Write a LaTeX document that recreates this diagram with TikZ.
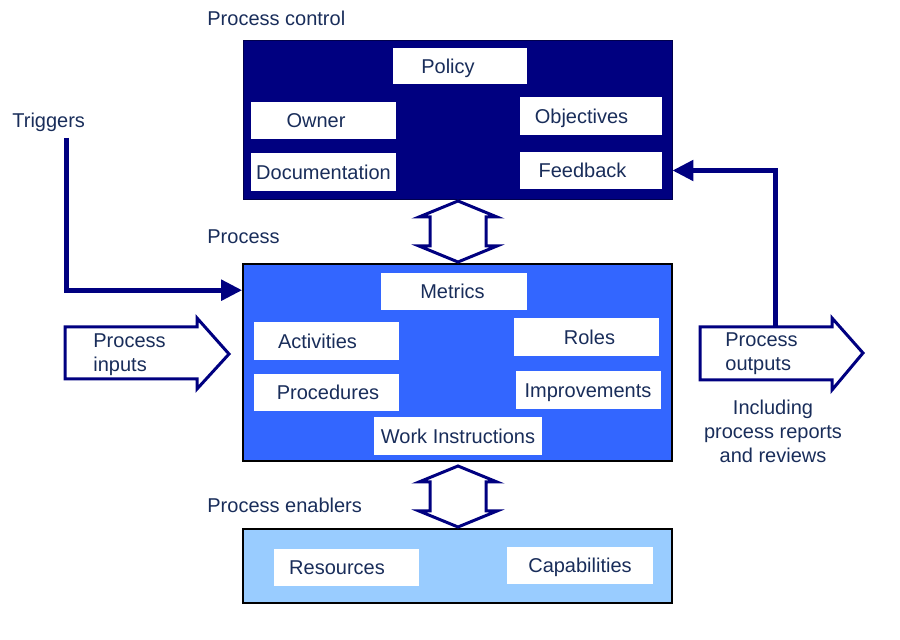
\documentclass[tikz,border=0pt]{standalone}
\usepackage{fontspec}
\setmainfont{Liberation Sans}
\usetikzlibrary{arrows.meta,calc}
\definecolor{navy}{RGB}{0,0,128}
\definecolor{procblue}{RGB}{51,102,255}
\definecolor{enablerblue}{RGB}{153,204,255}
\definecolor{ink}{RGB}{25,45,90}
\begin{document}
\begin{tikzpicture}[x=.5pt,y=-.5pt,
    every node/.style={text=ink,font=\fontsize{10}{12}\selectfont},
    bigbox/.style={rectangle,minimum width=214.5pt,inner sep=0pt},
    wbox/.style={fill=white,minimum width=72.5pt,minimum height=18.5pt,inner sep=0pt,text height=9.5pt,text depth=2pt},
    textshift/.style={execute at begin node={\hspace*{#1}},execute at end node={\hspace*{-#1}}},
    conn/.style={draw=navy,line width=2.5pt,-{Triangle[length=10.5pt,width=10pt]}},
    blockarrow/.style={draw=navy,fill=white,line width=1.5pt,line join=miter},
    heading/.style={anchor=west,inner sep=0pt}]
                \useasboundingbox (0,0) rectangle (900,640);
                \node[bigbox,draw=navy!60!black,fill=navy,minimum height=79.5pt] (control) at (457.5,119.5) {};
                \node[wbox,minimum width=67pt,minimum height=18pt,textshift=-5.75pt] (policy) at (459.5,66) {Policy};
                \node[wbox,textshift=-3.75pt] (owner) at (323.5,120.5) {Owner};
                \node[wbox,minimum height=19pt] (documentation) at (323.5,172) {Documentation};
                \node[wbox,minimum width=71pt,minimum height=19pt,textshift=-4.5pt] (objectives) at (590.5,116) {Objectives};
                \node[wbox,minimum width=71pt,textshift=-4pt] (feedback) at (590.5,170.5) {Feedback};
                \node[bigbox,draw=black,line width=.8pt,fill=procblue,minimum height=98.5pt] (process) at (457.5,362.5) {};
                \node[wbox,minimum width=73pt,textshift=-.75pt] (metrics) at (454,291.5) {Metrics};
                \node[wbox,minimum height=19pt,textshift=-4.5pt] (activities) at (326.5,341) {Activities};
                \node[wbox,textshift=.75pt] (procedures) at (326.5,392.5) {Procedures};
                \node[wbox,minimum height=19pt,textshift=1.75pt] (roles) at (586,337) {Roles};
                \node[wbox,minimum height=19pt] (improvements) at (588,390) {Improvements};
                \node[wbox,minimum width=84pt,minimum height=19pt] (workinstr) at (458,436) {Work Instructions};
                \node[bigbox,draw=black,line width=.8pt,fill=enablerblue,minimum height=37pt] (enablers) at (457.5,566) {};
                \node[wbox,textshift=-4.75pt] (resources) at (346.5,567.5) {Resources};
                \node[wbox,minimum width=73pt] (capabilities) at (580,565.5) {Capabilities};
                \node[heading] (controltitle) at (207,18) {Process control};
                \node[heading] (processtitle) at (207,237) {Process};
                \node[heading] (enablerstitle) at (207,505) {Process enablers};
                \node[heading] (triggers) at (12,122) {Triggers};
                \draw[blockarrow] (458,201)--(497,217)--(486,217)--(486,246)--(497,246)--(458,262)--(419,246)--(430,246)--(430,217)--(419,217)--cycle;
                \draw[blockarrow,shift={(0,265)}] (458,201)--(497,217)--(486,217)--(486,246)--(497,246)--(458,262)--(419,246)--(430,246)--(430,217)--(419,217)--cycle;
                \draw[blockarrow] (65,327)--(197,327)--(197,318)--(229,354)--(197,389)--(197,379)--(65,379)--cycle;
                \node[heading,align=left] (inputs) at (93,355) {Process\\inputs};
                \draw[blockarrow] (700,327)--(832,327)--(832,318)--(863,353)--(832,390)--(832,380)--(700,380)--cycle;
                \node[heading,align=left] (outputs) at (725,354) {Process\\outputs};
                \node[align=center,inner sep=0pt] (including) at (773,431) {Including\\process reports\\and reviews};
                \draw[conn] (66,138) |- ($(process.north west)+(0,27)$);
                \draw[conn] (775,326) |- (control.east |- feedback.east);
            \end{tikzpicture}
\end{document}
